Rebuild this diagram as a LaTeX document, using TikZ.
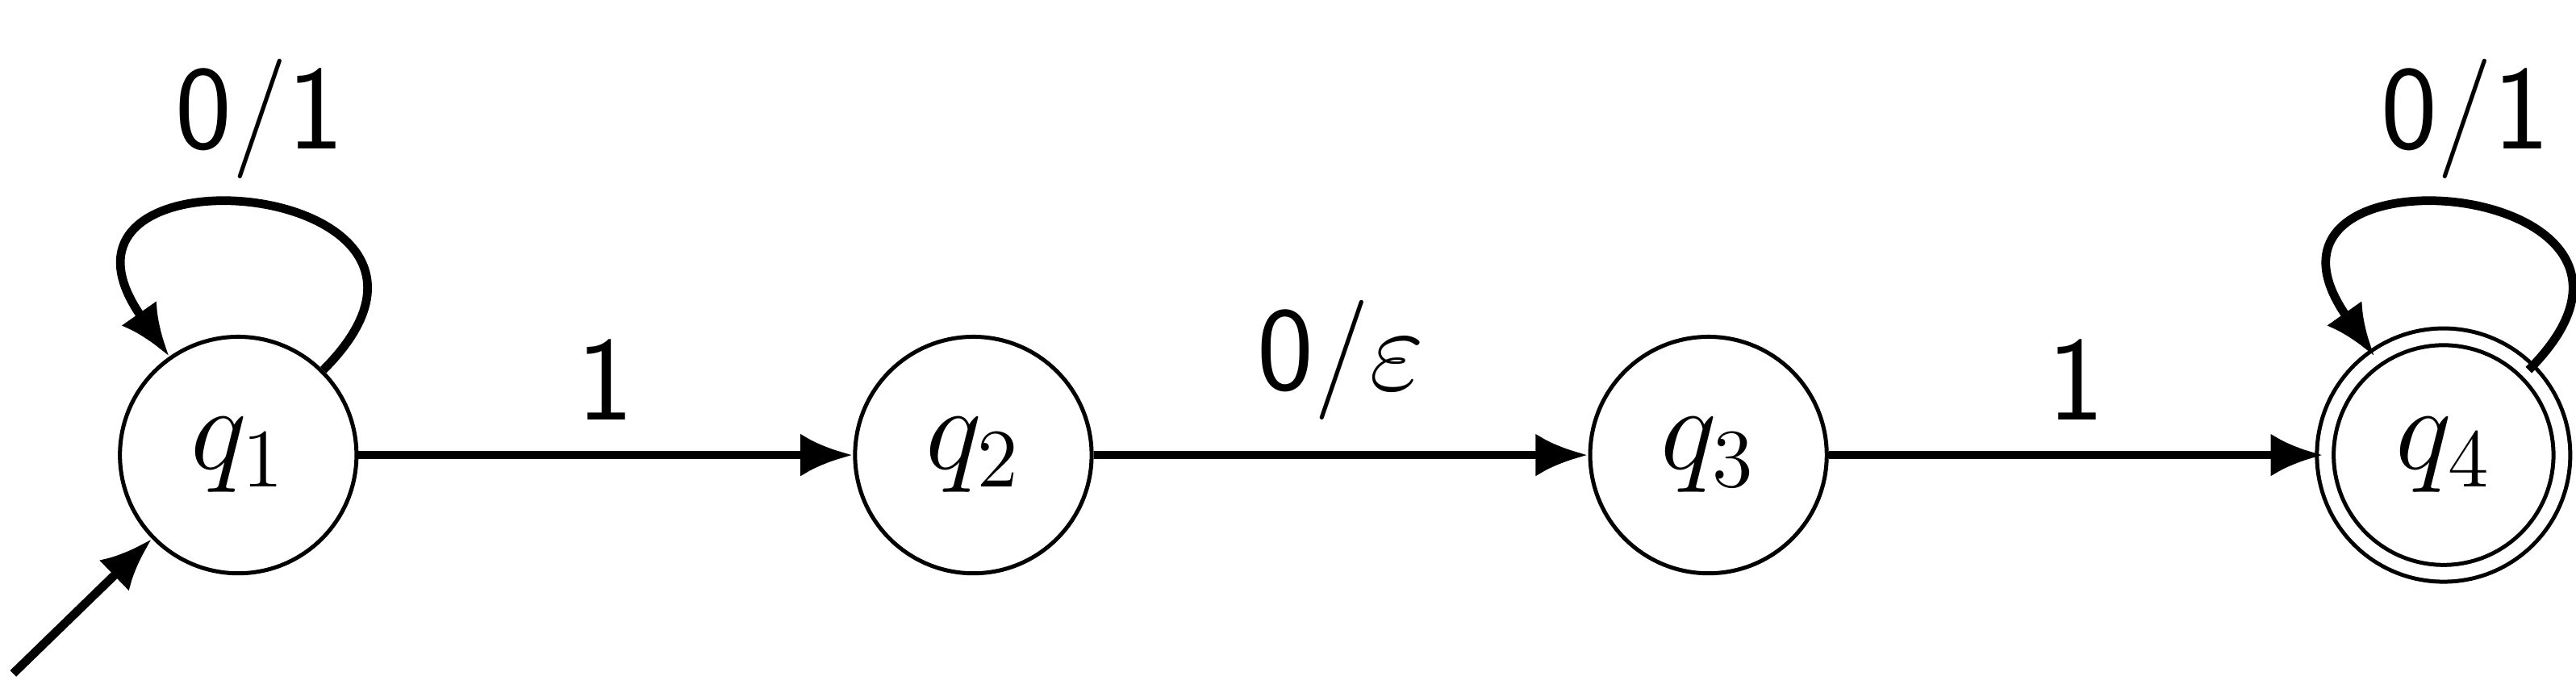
\documentclass[tikz,border=0pt]{standalone}
\usetikzlibrary{positioning,arrows.meta}
\tikzset{
  state/.style={circle,draw,line width=0.7pt,minimum size=1.44cm,inner sep=0pt,font=\huge},
  accepting/.style={double,double distance=2.2pt},
  trans/.style={line width=1.5pt,-{Latex[length=3.2mm,width=2.6mm]}},
  lbl/.style={font=\huge\sffamily}
}
\begin{document}
\begin{tikzpicture}
\useasboundingbox (0,0) rectangle (15.68,-4.24);
\node[state] at (1.45,-2.77) (q1) {$q_1$};
\node[state,right=3.01cm of q1] (q2) {$q_2$};
\node[state,right=3.01cm of q2] (q3) {$q_3$};
\node[state,accepting,right=3.01cm of q3] (q4) {$q_4$};
\coordinate (start) at (0.08,-4.1);

\draw[trans] (start) -- (q1);
\draw[trans] (q1) -- node[lbl,above=2pt] {1} (q2);
\draw[trans] (q2) -- node[lbl,above=2pt] {0/$\varepsilon$} (q3);
\draw[trans] (q3) -- node[lbl,above=2pt] {1} (q4);
\draw[trans] (q1) to[out=45,in=125,looseness=4.5] node[lbl,above=1pt] {0/1} (q1);
\draw[trans] (q4) to[out=45,in=125,looseness=4.5] node[lbl,above=1pt] {0/1} (q4);
\end{tikzpicture}
\end{document}
